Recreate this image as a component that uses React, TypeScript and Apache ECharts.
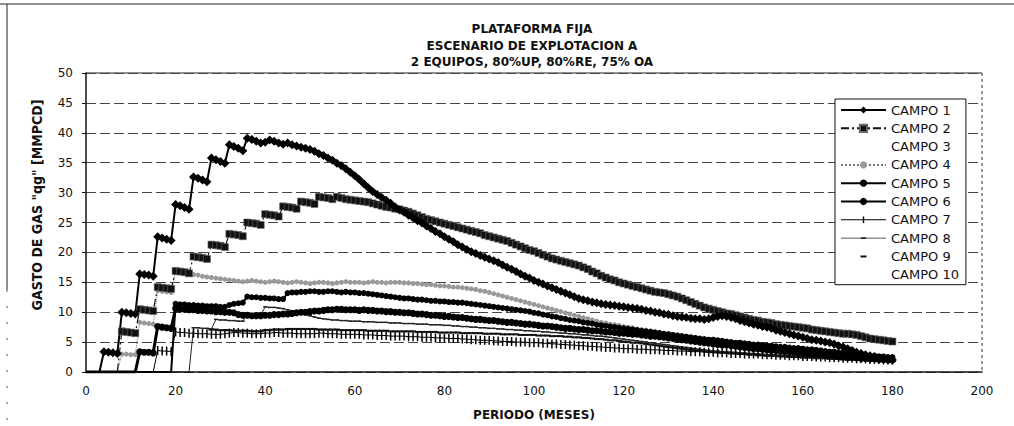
import React, { useEffect, useRef } from "react";
import * as echarts from "echarts";

const legendNames = ["CAMPO 1", "CAMPO 2", "CAMPO 3", "CAMPO 4", "CAMPO 5", "CAMPO 6", "CAMPO 7", "CAMPO 8", "CAMPO 9", "CAMPO 10"];
const titleLines = ["PLATAFORMA FIJA", "ESCENARIO DE EXPLOTACION A", "2 EQUIPOS, 80%UP, 80%RE, 75% OA"];
const xAxisTitle = "PERIODO (MESES)";
const yAxisTitle = 'GASTO DE GAS "qg" [MMPCD]';

// monthly values, month 0 .. 180
const campo1 = [0, 0, 0, 0,
  3.4, 3.3, 3.2, 3.1, 10.0, 9.9, 9.8, 9.7, 16.4, 16.3, 16.2, 16.0, 22.6, 22.4, 22.2, 22.0,
  28.0, 27.8, 27.5, 27.2, 32.6, 32.4, 32.1, 31.8, 35.8, 35.5, 35.2, 34.9, 38.0, 37.7, 37.4, 37.0,
  39.1, 38.9, 38.6, 38.3,
  38.4, 38.8, 38.6, 38.3, 38.1, 38.3, 38.0, 37.8, 37.6, 37.4,
  37.2, 36.9, 36.5, 36.2, 35.8, 35.4, 34.9, 34.5, 34.0, 33.4,
  32.8, 32.2, 31.5, 30.8, 30.2, 29.7, 29.2, 28.7, 28.2, 27.6,
  27.1, 26.7, 26.2, 25.8, 25.3, 24.9, 24.4, 24.0, 23.5, 23.1,
  22.6, 22.2, 21.8, 21.3, 20.9, 20.5, 20.1, 19.8, 19.5, 19.2,
  18.9, 18.6, 18.3, 17.9, 17.5, 17.2, 16.8, 16.4, 16.0, 15.7,
  15.3, 15.0, 14.7, 14.4, 14.1, 13.8, 13.5, 13.2, 12.9, 12.6,
  12.3, 12.1, 11.9, 11.7, 11.6, 11.4, 11.3, 11.2, 11.1, 11.0,
  10.9, 10.8, 10.7, 10.6, 10.5, 10.3, 10.2, 10.0, 9.9, 9.7,
  9.6, 9.4, 9.3, 9.2, 9.1, 9.0, 8.9, 8.9, 8.8, 8.9,
  9.1, 9.3, 9.4, 9.3, 9.1, 8.9, 8.6, 8.4, 8.2, 8.0,
  7.8, 7.6, 7.5, 7.3, 7.0, 6.8, 6.6, 6.4, 6.2, 6.0,
  5.8, 5.6, 5.4, 5.3, 5.2, 5.0, 4.9, 4.7, 4.4, 4.2,
  3.9, 3.6, 3.3, 3.1, 2.9, 2.7, 2.6, 2.4, 2.3, 2.1, 2.0];

const campo2 = [0, 0, 0, 0, 0, 0, 0, 0,
  6.8, 6.7, 6.6, 6.5, 10.5, 10.4, 10.3, 10.2, 14.2, 14.1, 14.0, 13.9,
  16.9, 16.8, 16.7, 16.5, 19.3, 19.2, 19.1, 18.9, 21.3, 21.2, 21.1, 20.9,
  23.1, 23.0, 22.9, 22.7, 25.0, 24.9, 24.8, 24.6, 26.4, 26.3, 26.2, 26.0,
  27.7, 27.6, 27.5, 27.3, 28.5, 28.4, 28.3, 28.1, 29.3, 29.2, 29.1, 28.9,
  29.3, 29.1, 28.9, 28.8,
  28.7, 28.6, 28.5, 28.4, 28.2, 28.0, 27.8, 27.6, 27.5, 27.3,
  27.2, 27.0, 26.8, 26.5, 26.2, 25.9, 25.6, 25.4, 25.2, 25.0,
  24.8, 24.6, 24.4, 24.2, 24.0, 23.8, 23.6, 23.4, 23.2, 22.9,
  22.7, 22.5, 22.3, 22.1, 21.9, 21.6, 21.3, 21.0, 20.7, 20.4,
  20.2, 19.9, 19.6, 19.3, 19.0, 18.8, 18.6, 18.4, 18.2, 18.0,
  17.8, 17.5, 17.2, 16.8, 16.5, 16.1, 15.8, 15.5, 15.3, 15.0,
  14.8, 14.6, 14.4, 14.2, 14.0, 13.8, 13.6, 13.4, 13.3, 13.2,
  13.0, 12.8, 12.6, 12.3, 12.0, 11.7, 11.4, 11.1, 10.8, 10.6,
  10.4, 10.2, 10.0, 9.8, 9.7, 9.5, 9.3, 9.1, 8.9, 8.7,
  8.6, 8.4, 8.3, 8.2, 8.0, 7.9, 7.8, 7.7, 7.6, 7.5,
  7.4, 7.3, 7.1, 7.0, 6.9, 6.8, 6.7, 6.6, 6.5, 6.4,
  6.4, 6.3, 6.2, 6.0, 5.8, 5.6, 5.5, 5.4, 5.3, 5.2, 5.1];

const campo3: number[] = [];

const campo4 = [0, 0, 0, 0, 0, 0, 0, 0,
  3.0, 3.0, 2.9, 2.9, 8.3, 8.2, 8.1, 8.0, 13.6, 13.5, 13.4, 13.3, 16.8, 16.7, 16.5, 16.4,
  16.3, 16.2, 16.0, 15.9, 15.8, 15.7, 15.6, 15.5, 15.4, 15.3, 15.2, 15.1,
  15.2, 15.3, 15.2, 15.1, 15.0, 15.1, 15.2, 15.1, 15.0, 14.9, 15.0, 15.1,
  15.0, 14.9, 14.8, 14.9, 15.0, 15.0, 14.9, 14.8, 14.9, 15.0, 15.1, 15.0,
  15.0, 15.0, 14.9, 15.0, 15.1, 15.0, 15.0, 14.9, 15.0, 15.0,
  15.0, 14.9, 14.9, 14.8, 14.8, 14.7, 14.6, 14.6, 14.5, 14.4,
  14.4, 14.3, 14.2, 14.2, 14.1, 14.0, 13.9, 13.8, 13.6, 13.5,
  13.3, 13.1, 12.9, 12.7, 12.5, 12.3, 12.1, 11.9, 11.7, 11.5,
  11.3, 11.1, 10.9, 10.7, 10.5, 10.3, 10.1, 9.9, 9.7, 9.5,
  9.3, 9.1, 8.9, 8.7, 8.5, 8.3, 8.2, 8.0, 7.9, 7.8,
  7.6, 7.5, 7.4, 7.2, 7.1, 7.0, 6.9, 6.8, 6.6, 6.5,
  6.4, 6.3, 6.2, 6.0, 5.9, 5.8, 5.7, 5.6, 5.5, 5.4,
  5.3, 5.2, 5.1, 5.0, 4.9, 4.8, 4.7, 4.6, 4.5, 4.4,
  4.3, 4.2, 4.1, 4.0, 3.9, 3.8, 3.7, 3.6, 3.5, 3.4,
  3.3, 3.2, 3.1, 3.0, 2.9, 2.9, 2.8, 2.7, 2.6, 2.5,
  2.5, 2.4, 2.3, 2.3, 2.2, 2.1, 2.1, 2.0, 2.0, 1.9, 1.9];

const campo5 = [0, 0, 0, 0, 0, 0, 0, 0, 0, 0, 0, 0, 0, 0, 0, 0, 0, 0, 0, 0,
  11.4, 11.3, 11.3, 11.2, 11.2, 11.1, 11.1, 11.0, 11.0, 11.0, 10.9, 10.9, 11.2, 11.4, 11.5, 11.6,
  12.6, 12.5, 12.5, 12.4, 12.4, 12.3, 12.3, 12.2, 12.2,
  13.2, 13.3, 13.3, 13.4, 13.4, 13.5, 13.5, 13.4, 13.4, 13.5, 13.5, 13.4, 13.3, 13.4, 13.3,
  13.3, 13.2, 13.2, 13.1, 13.0, 12.9, 12.8, 12.7, 12.6, 12.5,
  12.4, 12.3, 12.3, 12.2, 12.1, 12.1, 12.0, 11.9, 11.9, 11.8,
  11.8, 11.7, 11.7, 11.6, 11.6, 11.5, 11.4, 11.3, 11.2, 11.1,
  11.0, 10.9, 10.8, 10.7, 10.6, 10.5, 10.4, 10.3, 10.2, 10.1,
  9.9, 9.8, 9.6, 9.5, 9.3, 9.2, 9.0, 8.9, 8.7, 8.6,
  8.5, 8.3, 8.2, 8.1, 7.9, 7.8, 7.7, 7.6, 7.5, 7.4,
  7.3, 7.2, 7.1, 7.0, 6.9, 6.8, 6.7, 6.6, 6.5, 6.4,
  6.3, 6.2, 6.1, 6.0, 5.9, 5.8, 5.7, 5.6, 5.5, 5.4,
  5.4, 5.3, 5.2, 5.1, 5.0, 4.9, 4.9, 4.8, 4.7, 4.6,
  4.6, 4.5, 4.4, 4.4, 4.3, 4.2, 4.2, 4.1, 4.0, 4.0,
  3.9, 3.8, 3.8, 3.7, 3.6, 3.5, 3.4, 3.4, 3.3, 3.2,
  3.1, 3.0, 2.9, 2.9, 2.8, 2.7, 2.7, 2.6, 2.6, 2.5, 2.5];

const campo6 = [0, 0, 0, 0, 0, 0, 0, 0, 0, 0, 0, 0,
  3.4, 3.3, 3.3, 3.2, 7.6, 7.5, 7.4, 7.3,
  10.6, 10.5, 10.5, 10.4, 10.4, 10.3, 10.3, 10.2, 10.2, 10.1, 10.1, 10.0, 10.0, 9.9,
  9.6, 9.5, 9.5, 9.4, 9.4, 9.4, 9.5, 9.5, 9.6, 9.6, 9.7, 9.7,
  9.8, 9.9, 10.0, 10.0, 10.1, 10.2, 10.2, 10.3, 10.4, 10.4, 10.5, 10.5, 10.4, 10.4,
  10.4, 10.3, 10.4, 10.3, 10.3, 10.2, 10.2, 10.1, 10.1, 10.0,
  10.0, 9.9, 9.9, 9.8, 9.7, 9.7, 9.6, 9.5, 9.5, 9.4,
  9.3, 9.3, 9.2, 9.1, 9.1, 9.0, 8.9, 8.8, 8.8, 8.7,
  8.6, 8.6, 8.5, 8.4, 8.3, 8.3, 8.2, 8.1, 8.0, 8.0,
  7.9, 7.8, 7.7, 7.7, 7.6, 7.5, 7.4, 7.3, 7.3, 7.2,
  7.1, 7.1, 7.0, 6.9, 6.9, 6.8, 6.7, 6.7, 6.6, 6.5,
  6.5, 6.4, 6.3, 6.3, 6.2, 6.1, 6.0, 6.0, 5.9, 5.8,
  5.7, 5.6, 5.5, 5.4, 5.3, 5.2, 5.1, 5.0, 4.9, 4.8,
  4.7, 4.6, 4.5, 4.5, 4.4, 4.3, 4.2, 4.1, 4.0, 3.9,
  3.9, 3.8, 3.7, 3.6, 3.6, 3.5, 3.4, 3.4, 3.3, 3.2,
  3.2, 3.1, 3.0, 3.0, 2.9, 2.8, 2.8, 2.7, 2.6, 2.6,
  2.5, 2.5, 2.4, 2.3, 2.3, 2.2, 2.2, 2.1, 2.1, 2.0, 2.0];

const campo7 = [0, 0, 0, 0, 0, 0, 0, 0, 0, 0, 0, 0, 0, 0, 0, 0,
  3.6, 3.5, 3.5, 3.4,
  6.7, 6.6, 6.6, 6.5, 6.5, 6.4, 6.4, 6.4, 6.3, 6.3,
  6.3, 6.4, 6.5, 6.6, 6.6, 6.5, 6.5, 6.4, 6.4, 6.4,
  6.5, 6.5, 6.6, 6.6, 6.5, 6.5, 6.5, 6.4, 6.4, 6.4,
  6.4, 6.4, 6.5, 6.5, 6.4, 6.4, 6.4, 6.3, 6.3, 6.3,
  6.3, 6.3, 6.2, 6.2, 6.2, 6.1, 6.1, 6.1, 6.0, 6.0,
  6.0, 6.0, 5.9, 5.9, 5.9, 5.8, 5.8, 5.8, 5.7, 5.7,
  5.7, 5.6, 5.6, 5.6, 5.5, 5.5, 5.4, 5.4, 5.3, 5.3,
  5.3, 5.2, 5.2, 5.1, 5.1, 5.1, 5.0, 5.0, 5.0, 4.9,
  4.9, 4.9, 4.8, 4.8, 4.7, 4.7, 4.6, 4.6, 4.5, 4.5,
  4.4, 4.4, 4.3, 4.3, 4.2, 4.2, 4.1, 4.1, 4.0, 4.0,
  3.9, 3.9, 3.9, 3.8, 3.8, 3.8, 3.7, 3.7, 3.7, 3.6,
  3.6, 3.6, 3.5, 3.5, 3.5, 3.4, 3.4, 3.4, 3.3, 3.3,
  3.3, 3.2, 3.2, 3.2, 3.1, 3.1, 3.1, 3.0, 3.0, 3.0,
  3.0, 2.9, 2.9, 2.9, 2.8, 2.8, 2.8, 2.7, 2.7, 2.7,
  2.6, 2.6, 2.6, 2.5, 2.5, 2.5, 2.4, 2.4, 2.4, 2.3,
  2.3, 2.3, 2.2, 2.2, 2.2, 2.1, 2.1, 2.1, 2.0, 2.0, 2.0];

const campo8 = [0, 0, 0, 0, 0, 0, 0, 0, 0, 0, 0, 0, 0, 0, 0, 0, 0, 0, 0, 0, 0, 0, 0, 0,
  7.4, 7.4, 7.3, 7.3, 7.2,
  8.8, 8.7, 8.7, 8.6, 8.6, 8.5, 8.5,
  9.7, 9.6, 9.6, 9.5,
  10.9, 10.8, 10.8, 10.7, 10.6,
  10.4, 10.2, 10.0, 9.8, 9.6, 9.4, 9.2, 9.0, 8.9, 8.8, 8.7, 8.7, 8.6, 8.6, 8.5,
  8.5, 8.5, 8.4, 8.4, 8.4, 8.3, 8.3, 8.3, 8.2, 8.2,
  8.2, 8.1, 8.1, 8.1, 8.0, 8.0, 8.0, 7.9, 7.9, 7.9,
  7.8, 7.8, 7.7, 7.7, 7.6, 7.6, 7.5, 7.5, 7.4, 7.4,
  7.3, 7.3, 7.2, 7.2, 7.1, 7.1, 7.0, 7.0, 6.9, 6.9,
  6.8, 6.8, 6.7, 6.7, 6.6, 6.6, 6.5, 6.5, 6.4, 6.4,
  6.3, 6.2, 6.2, 6.1, 6.0, 6.0, 5.9, 5.8, 5.7, 5.6,
  5.5, 5.4, 5.3, 5.2, 5.1, 5.0, 4.9, 4.8, 4.7, 4.6,
  4.5, 4.4, 4.3, 4.2, 4.1, 4.0, 3.9, 3.8, 3.7, 3.6,
  3.5, 3.5, 3.4, 3.4, 3.3, 3.3, 3.2, 3.2, 3.1, 3.1,
  3.0, 3.0, 2.9, 2.9, 2.8, 2.8, 2.7, 2.7, 2.6, 2.6,
  2.5, 2.5, 2.4, 2.4, 2.3, 2.3, 2.2, 2.2, 2.1, 2.1,
  2.0, 2.0, 2.0, 1.9, 1.9, 1.9, 1.8, 1.8, 1.8, 1.7, 1.7];

const campo9 = [0, 0, 0, 0, 0, 0, 0, 0, 0, 0, 0, 0, 0, 0, 0, 0, 0, 0, 0, 0, 0, 0, 0, 0, 0, 0, 0, 0,
  7.1, 7.1, 7.0, 7.0, 7.0, 6.9, 6.9, 6.9, 6.9, 6.8, 6.8, 6.8,
  7.0, 7.0, 7.1, 7.1, 7.1, 7.2, 7.2, 7.2, 7.2, 7.2, 7.2, 7.2, 7.1, 7.1, 7.1, 7.1, 7.1, 7.0, 7.0, 7.0,
  7.0, 7.0, 7.0, 6.9, 6.9, 6.9, 6.9, 6.9, 6.8, 6.8,
  6.8, 6.8, 6.8, 6.8, 6.7, 6.7, 6.7, 6.7, 6.7, 6.6,
  6.6, 6.6, 6.6, 6.6, 6.5, 6.5, 6.5, 6.5, 6.5, 6.4,
  6.4, 6.4, 6.4, 6.3, 6.3, 6.3, 6.3, 6.2, 6.2, 6.2,
  6.2, 6.1, 6.1, 6.1, 6.0, 6.0, 6.0, 5.9, 5.9, 5.8,
  5.8, 5.7, 5.7, 5.6, 5.5, 5.5, 5.4, 5.3, 5.3, 5.2,
  5.1, 5.0, 4.9, 4.9, 4.8, 4.7, 4.6, 4.5, 4.4, 4.3,
  4.2, 4.1, 4.0, 3.9, 3.8, 3.7, 3.6, 3.6, 3.5, 3.4,
  3.3, 3.3, 3.2, 3.2, 3.1, 3.1, 3.0, 3.0, 2.9, 2.9,
  2.8, 2.8, 2.7, 2.7, 2.7, 2.6, 2.6, 2.5, 2.5, 2.5,
  2.4, 2.4, 2.4, 2.3, 2.3, 2.3, 2.2, 2.2, 2.2, 2.1,
  2.1, 2.1, 2.0, 2.0, 2.0, 1.9, 1.9, 1.9, 1.8, 1.8, 1.8];

const campo10: number[] = [];

const pts = (vals: number[]) =>
  vals.map((v, m) => (v === 0 ? { value: [m, v], symbol: "none" } : [m, v]));

const CLEAR = "rgba(0,0,0,0)";
const TICK_FONT = "'DejaVu Sans', sans-serif";

// legend icons drawn in a 45 x 9 box (tiny corner specks fix the box size)
const BOX = "M0,0 L0.01,0 L0,0.01 Z M45,9 L44.99,9 L45,8.99 Z ";
const icon7 = "path://" + BOX + "M0,4 L45,4 L45,5 L0,5 Z M21.8,1.2 L23.2,1.2 L23.2,7.8 L21.8,7.8 Z";
const icon8 = "path://" + BOX + "M0,4.1 L45,4.1 L45,4.9 L0,4.9 Z M20,3.7 L25,3.7 L25,5.3 L20,5.3 Z";
const icon9 = "path://" + BOX + "M19.5,3.5 L25.5,3.5 L25.5,5.5 L19.5,5.5 Z";
const legendIcons: Record<string, string> = { "CAMPO 7": icon7, "CAMPO 8": icon8, "CAMPO 9": icon9 };

export default function App() {
  const ref = useRef<HTMLDivElement>(null);

  useEffect(() => {
    const chart = echarts.init(ref.current as HTMLDivElement, null, { renderer: "svg" });
    const option: any = {
      animation: false,
      backgroundColor: "#ffffff",
      grid: { left: 86, right: 32, top: 73, bottom: 54, containLabel: false },
      xAxis: {
        type: "value",
        min: 0,
        max: 200,
        interval: 20,
        name: xAxisTitle,
        nameLocation: "middle",
        nameGap: 37,
        nameTextStyle: { fontFamily: TICK_FONT, fontWeight: "bold", fontSize: 12, color: "#111" },
        axisLine: { show: true, onZero: false, lineStyle: { color: "#111", width: 1.5 } },
        axisTick: { show: false },
        axisLabel: { fontFamily: TICK_FONT, fontSize: 12, color: "#111", margin: 13 },
        splitLine: { show: false },
      },
      yAxis: {
        type: "value",
        min: 0,
        max: 50,
        interval: 5,
        axisLine: { show: true, lineStyle: { color: "#111", width: 1.5 } },
        axisTick: { show: true, length: 4, lineStyle: { color: "#111" } },
        axisLabel: { fontFamily: TICK_FONT, fontSize: 12, color: "#111", margin: 13 },
        splitLine: { show: true, lineStyle: { color: "#444", width: 1, type: [10, 4] } },
      },
      legend: {
        orient: "vertical",
        left: 835,
        top: 99,
        itemWidth: 45,
        itemHeight: 9,
        itemGap: 4.3,
        padding: [4, 7, 3, 5],
        backgroundColor: "#ffffff",
        borderColor: "#111",
        borderWidth: 1,
        borderRadius: 0,
        textStyle: { fontFamily: TICK_FONT, fontSize: 13, color: "#111", lineHeight: 14 },
        data: legendNames.map((n) => (legendIcons[n] ? { name: n, icon: legendIcons[n] } : n)),
      },
      graphic: [
        { type: "line", shape: { x1: 0, y1: 4, x2: 1014, y2: 4 }, style: { stroke: "#222", lineWidth: 1 }, silent: true },
        { type: "line", shape: { x1: 7, y1: 4, x2: 7, y2: 290 }, style: { stroke: "#222", lineWidth: 1 }, silent: true },
        { type: "line", shape: { x1: 7, y1: 290, x2: 7, y2: 426 }, style: { stroke: "#555", lineWidth: 1, lineDash: [2, 14] }, silent: true },
        { type: "line", shape: { x1: 86, y1: 73, x2: 982, y2: 73 }, style: { stroke: "#222", lineWidth: 1.2 }, silent: true },
        { type: "line", shape: { x1: 982, y1: 73, x2: 982, y2: 372 }, style: { stroke: "#333", lineWidth: 1, lineDash: [3, 3] }, silent: true },
        ...titleLines.map((t, i) => ({
          type: "text",
          x: 532,
          y: 29 + i * 16.5,
          silent: true,
          style: {
            text: t,
            textAlign: "center",
            textVerticalAlign: "middle",
            fontFamily: TICK_FONT,
            fontWeight: "bold",
            fontSize: 12,
            fill: "#111",
          },
        })),
        {
          type: "text",
          x: 37,
          y: 205,
          rotation: Math.PI / 2,
          silent: true,
          style: {
            text: yAxisTitle,
            textAlign: "center",
            textVerticalAlign: "middle",
            fontFamily: "'Liberation Sans Narrow', 'DejaVu Sans Condensed', 'Liberation Sans', sans-serif",
            fontWeight: "bold",
            fontSize: 14,
            fill: "#111",
          },
        },
      ],
      series: [
        {
          name: "CAMPO 4", type: "line", data: pts(campo4), symbol: "circle", symbolSize: 5, z: 2,
          itemStyle: { color: "#999" }, lineStyle: { color: "#777", width: 1, type: "dotted" },
        },
        {
          name: "CAMPO 9", type: "line", data: pts(campo9), symbol: "rect", symbolSize: [6, 2],
          itemStyle: { color: "#111" }, lineStyle: { color: "#111", width: 0, opacity: 0 },
        },
        {
          name: "CAMPO 8", type: "line", data: pts(campo8), symbol: "rect", symbolSize: [4, 1.5],
          itemStyle: { color: "#222" }, lineStyle: { color: "#222", width: 1 },
        },
        {
          name: "CAMPO 7", type: "line", data: pts(campo7), symbol: "rect", symbolSize: [1.5, 9],
          itemStyle: { color: "#000" }, lineStyle: { color: "#000", width: 1 },
        },
        {
          name: "CAMPO 6", type: "line", data: pts(campo6), symbol: "circle", symbolSize: 7,
          itemStyle: { color: "#000" }, lineStyle: { color: "#000", width: 3 },
        },
        {
          name: "CAMPO 5", type: "line", data: pts(campo5), symbol: "circle", symbolSize: 6,
          itemStyle: { color: "#000" }, lineStyle: { color: "#000", width: 2 },
        },
        {
          name: "CAMPO 2", type: "line", data: pts(campo2), symbol: "rect", symbolSize: 7,
          itemStyle: { color: "#111", borderColor: "#666", borderWidth: 0.6 },
          lineStyle: { color: "#111", width: 1.2, type: [8, 3, 2, 3] },
        },
        {
          name: "CAMPO 1", type: "line", data: pts(campo1), symbol: "diamond", symbolSize: 9,
          itemStyle: { color: "#000" }, lineStyle: { color: "#000", width: 2 },
        },
        {
          name: "CAMPO 3", type: "line", data: pts(campo3), symbol: "none",
          itemStyle: { color: CLEAR }, lineStyle: { color: CLEAR, width: 0 },
        },
        {
          name: "CAMPO 10", type: "line", data: pts(campo10), symbol: "none",
          itemStyle: { color: CLEAR }, lineStyle: { color: CLEAR, width: 0 },
        },
      ],
    };
    chart.setOption(option);
    return () => chart.dispose();
  }, []);

  return (
    <div
      ref={ref}
      style={{ position: "fixed", left: 0, top: 0, width: 1014, height: 426, background: "#fff" }}
    />
  );
}
